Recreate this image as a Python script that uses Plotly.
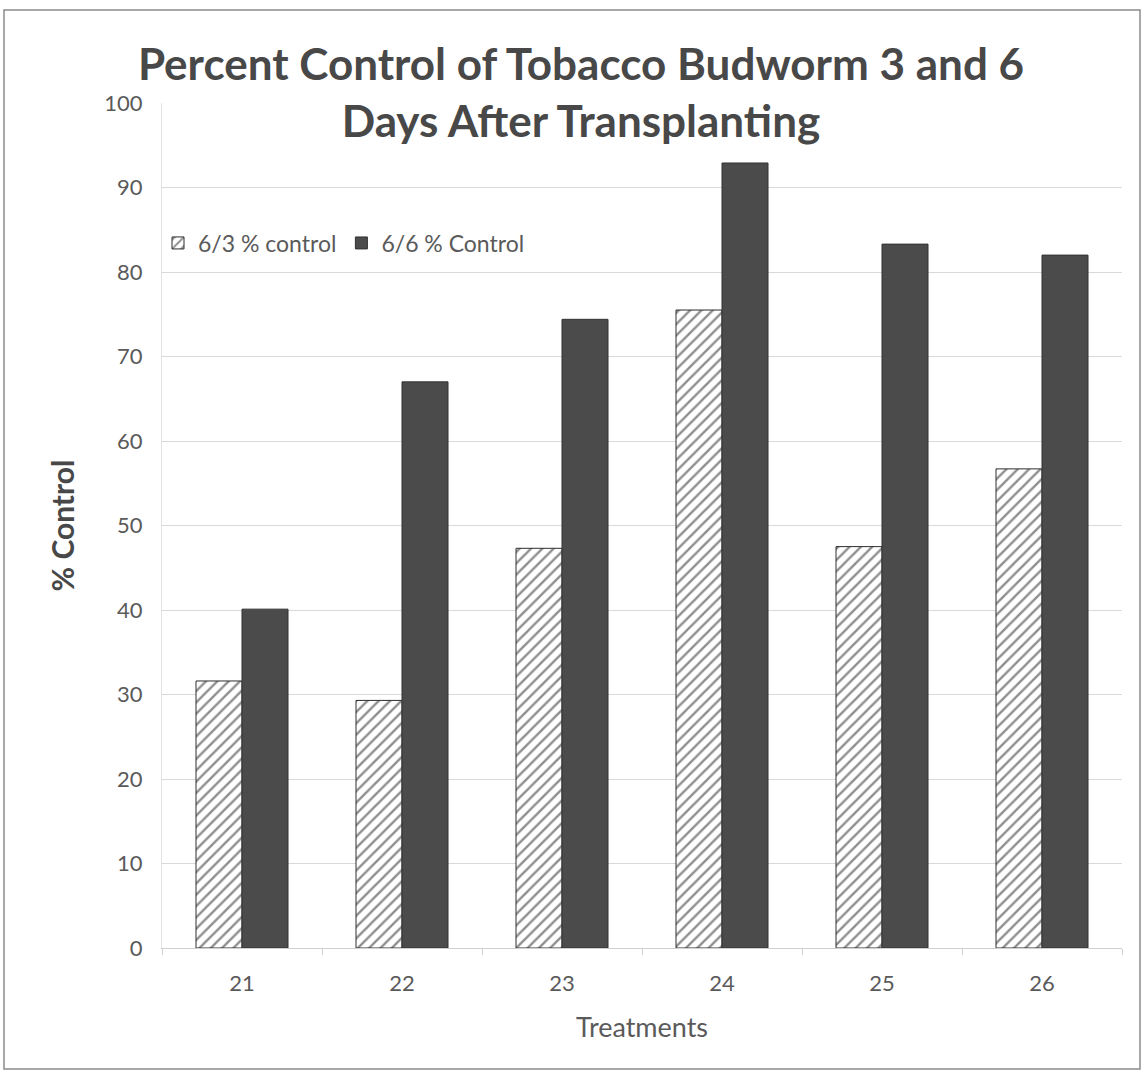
import plotly.graph_objects as go

# Treatment numbers and percent control at each rating date
treatments = ["21", "22", "23", "24", "25", "26"]
control_6_3 = [31.6, 29.3, 47.3, 75.5, 47.5, 56.7]
control_6_6 = [40.1, 67.0, 74.4, 92.9, 83.3, 82.0]

series_names = ["6/3 % control", "6/6 % Control"]
y_ticks = [0, 10, 20, 30, 40, 50, 60, 70, 80, 90, 100]

W, H = 1146, 1074
ml, mr, mt, mb = 162, 24, 103, 126
pw, ph = W - ml - mr, H - mt - mb

font_family = "Lato, 'Open Sans', sans-serif"
text_grey = "#5a5a5a"

fig = go.Figure()

fig.add_trace(go.Bar(
    x=treatments, y=control_6_3, name=series_names[0],
    marker=dict(
        color="white",
        line=dict(color="#2e2e2e", width=1),
        pattern=dict(shape="/", fgcolor="#1e1e1e", bgcolor="white",
                     size=8, solidity=0.3),
    ),
))
fig.add_trace(go.Bar(
    x=treatments, y=control_6_6, name=series_names[1],
    marker=dict(color="#4b4b4b", line=dict(color="#333333", width=1)),
))


def px_x(x):
    return (x - ml) / pw


def px_y(y):
    return (H - mb - y) / ph


# Outer chart frame
fig.add_shape(type="rect", xref="paper", yref="paper",
              x0=px_x(4), x1=px_x(1140), y0=px_y(1069), y1=px_y(10),
              line=dict(color="#8c8c8c", width=1.5), layer="below")

fig.update_layout(
    width=W, height=H,
    margin=dict(l=ml, r=mr, t=mt, b=mb),
    paper_bgcolor="white", plot_bgcolor="white",
    barmode="group", bargap=0.425, bargroupgap=0,
    font=dict(family=font_family, color=text_grey),
    title=dict(
        text="Percent Control of Tobacco Budworm 3 and 6<br>Days After Transplanting",
        font=dict(family=font_family, size=44, color="#484848", weight="bold"),
        x=581 / W, xanchor="center", xref="container",
        y=1 - 80 / H, yanchor="middle", yref="container",
    ),
    legend=dict(
        orientation="h", x=px_x(158), y=px_y(243), xanchor="left", yanchor="middle",
        font=dict(size=23, color=text_grey), bgcolor="rgba(0,0,0,0)",
        itemwidth=30, traceorder="normal",
    ),
    xaxis=dict(
        title=dict(text="Treatments", font=dict(size=27, color=text_grey), standoff=22),
        tickfont=dict(size=22, color=text_grey), ticklabelstandoff=16,
        showline=True, linecolor="#cfcfcf", linewidth=1,
        ticks="outside", tickson="boundaries", ticklen=6, tickcolor="#cfcfcf",
        showgrid=False,
    ),
    yaxis=dict(
        title=dict(text="% Control", font=dict(size=30, color="#484848", weight="bold"), standoff=20),
        range=[0, 100], tickvals=y_ticks,
        tickfont=dict(size=22, color=text_grey),
        showgrid=True, gridcolor="#d9d9d9", gridwidth=1,
        showline=True, linecolor="#e3e3e3", linewidth=1,
        zeroline=False, ticks="", ticklabelstandoff=14,
    ),
)

fig.write_html("out.html")
